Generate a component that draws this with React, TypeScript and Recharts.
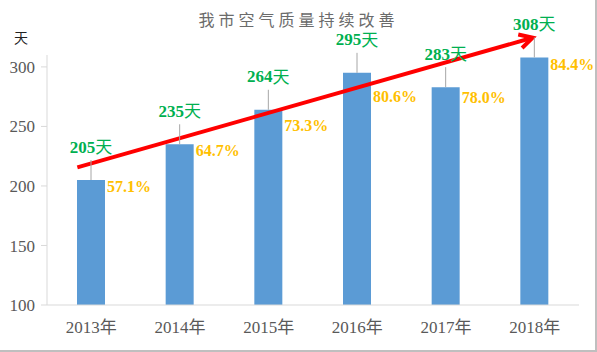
import React from 'react';
import { BarChart, Bar, XAxis, YAxis, LabelList, ReferenceLine } from 'recharts';

const years = ['2013年', '2014年', '2015年', '2016年', '2017年', '2018年'];
const goodDays = [205, 235, 264, 295, 283, 308];
const goodRate = [57.1, 64.7, 73.3, 80.6, 78.0, 84.4];
const yTicks = [100, 150, 200, 250, 300];

// trend arrow (value axis units)
const trendFrom = { year: '2013年', value: 219 };
const trendTo = { year: '2018年', value: 325 };

// how far below the bar top each % label sits, so it stays clear of the arrow
const rateNudge = [6, 6, 16, 24, 10, 7];

const data = years.map((year, i) => ({ year, days: goodDays[i], rate: goodRate[i] }));

const serif = "'Liberation Serif', 'Noto Sans CJK SC', serif";
const GREEN = '#00B050';
const GOLD = '#FFC000';

const DaysLabel = (props: any) => {
  const x = Number(props.x);
  const y = Number(props.y);
  const w = Number(props.width);
  const cx = x + w / 2;
  return (
    <g>
      <line x1={cx} x2={cx} y1={y - 20} y2={y} stroke="#a6a6a6" strokeWidth={1} />
      <text
        x={cx}
        y={y - 33}
        textAnchor="middle"
        dominantBaseline="central"
        fill={GREEN}
        fontWeight="bold"
        fontSize={17}
        fontFamily={serif}
      >
        {props.value}
        <tspan fontWeight="normal">天</tspan>
      </text>
    </g>
  );
};

const RateLabel = (props: any) => {
  const x = Number(props.x);
  const y = Number(props.y);
  const w = Number(props.width);
  const nudge = rateNudge[props.index] ?? 6;
  return (
    <text
      x={x + w + 2}
      y={y + nudge}
      textAnchor="start"
      dominantBaseline="central"
      fill={GOLD}
      fontWeight="bold"
      fontSize={16}
      fontFamily={serif}
    >
      {Number(props.value).toFixed(1)}%
    </text>
  );
};

// thick red line with a V head; start is pulled back to the left edge of the first bar
const TrendArrow = (props: any) => {
  const x1 = Number(props.x1), y1 = Number(props.y1);
  const x2 = Number(props.x2), y2 = Number(props.y2);
  const dx = x2 - x1, dy = y2 - y1;
  const len = Math.sqrt(dx * dx + dy * dy);
  const ux = dx / len, uy = dy / len;
  const nx = -uy, ny = ux;
  const back = 14;
  const sx = x1 - back, sy = y1 - (dy / dx) * back;
  const tx = x2 - 2, ty = y2 - (dy / dx) * 2;
  const L = 13, W = 7;
  const head = `${tx - L * ux + W * nx},${ty - L * uy + W * ny} ${tx},${ty} ${tx - L * ux - W * nx},${ty - L * uy - W * ny}`;
  return (
    <g>
      <line x1={sx} y1={sy} x2={tx - 2 * ux} y2={ty - 2 * uy} stroke="#FF0000" strokeWidth={4} />
      <polyline points={head} fill="none" stroke="#FF0000" strokeWidth={4} strokeLinejoin="miter" />
    </g>
  );
};

const App: React.FC = () => {
  return (
    <div
      style={{
        position: 'absolute',
        left: 0,
        top: 0,
        width: 595,
        height: 350,
        background: '#fff',
        borderRight: '2px solid #bfbfbf',
        borderBottom: '2px solid #bfbfbf',
      }}
    >
      <div
        style={{
          position: 'absolute',
          left: 0,
          top: 9,
          width: 597,
          textAlign: 'center',
          fontFamily: "'Noto Sans CJK SC', sans-serif",
          fontSize: 16,
          letterSpacing: 4,
          color: '#6b6b6b',
          lineHeight: '20px',
        }}
      >
        我市空气质量持续改善
      </div>
      <div
        style={{
          position: 'absolute',
          left: 14,
          top: 27,
          fontFamily: "'Noto Sans CJK SC', sans-serif",
          fontSize: 14,
          color: '#222',
          lineHeight: '20px',
        }}
      >
        天
      </div>
      <BarChart
        width={595}
        height={350}
        data={data}
        margin={{ top: 55, right: 16, bottom: 15, left: 0 }}
      >
        <XAxis
          dataKey="year"
          height={30}
          tickLine={false}
          axisLine={{ stroke: '#d9d9d9' }}
          tickMargin={10}
          tick={{ fill: '#595959', fontSize: 17, fontFamily: serif }}
          interval={0}
        />
        <YAxis
          width={47}
          domain={[100, 310]}
          ticks={yTicks}
          allowDataOverflow
          axisLine={{ stroke: '#d9d9d9' }}
          tickLine={{ stroke: '#d9d9d9' }}
          tickMargin={6}
          tick={{ fill: '#595959', fontSize: 17, fontFamily: serif }}
        />
        <Bar dataKey="days" fill="#5B9BD5" barSize={28} isAnimationActive={false}>
          <LabelList dataKey="days" content={<DaysLabel />} />
          <LabelList dataKey="rate" content={<RateLabel />} />
        </Bar>
        <ReferenceLine
          segment={[
            { x: trendFrom.year, y: trendFrom.value },
            { x: trendTo.year, y: trendTo.value },
          ]}
          ifOverflow="visible"
          shape={<TrendArrow />}
        />
      </BarChart>
    </div>
  );
};

export default App;
